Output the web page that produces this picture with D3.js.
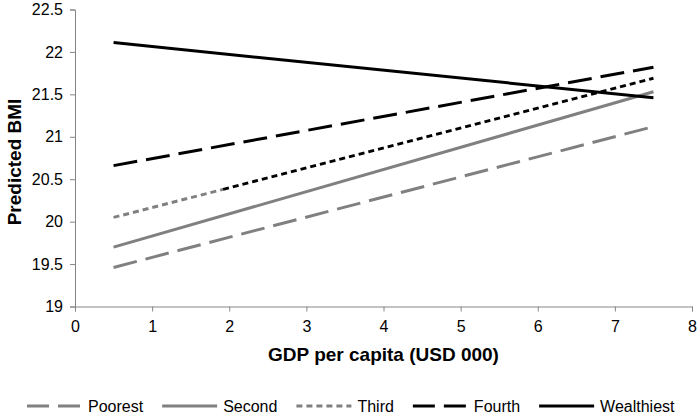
<!DOCTYPE html>
<html>
<head>
<meta charset="utf-8">
<script src="https://cdn.jsdelivr.net/npm/d3@7"></script>
<style>
  html, body { margin: 0; padding: 0; background: #fff; }
  svg { display: block; }
  text { font-family: "Liberation Sans", Arial, sans-serif; }
</style>
</head>
<body>
<svg id="chart" width="700" height="415"></svg>
<script>
// ---- data ----
const xEnds = [0.5, 7.5];
const poorest = [19.46, 21.12];
const second = [19.70, 21.53];
const third = [20.05, 21.69];
const thirdBreakX = 1.92;
const thirdBreakY = 20.38;
const fourth = [20.66, 21.82];
const wealthiest = [22.11, 21.46];
const seriesNames = ["Poorest", "Second", "Third", "Fourth", "Wealthiest"];
const xTicks = [0, 1, 2, 3, 4, 5, 6, 7, 8];
const yTicks = [19, 19.5, 20, 20.5, 21, 21.5, 22, 22.5];

const GRAY = "#808080", BLACK = "#000000";
const styles = {
  Poorest:    { color: GRAY,  dash: "24,9" },
  Second:     { color: GRAY,  dash: null },
  Third:      { color: GRAY,  dash: "6,4" },
  Fourth:     { color: BLACK, dash: "24,9" },
  Wealthiest: { color: BLACK, dash: null }
};

const svg = d3.select("#chart");
const x = d3.scaleLinear().domain([0, 8]).range([75, 692]);
const y = d3.scaleLinear().domain([19, 22.5]).range([306.5, 9.5]);

// axes
const yAxis = svg.append("g").attr("transform", `translate(${x(0)},0)`)
  .call(d3.axisLeft(y).tickValues(yTicks).tickSize(5).tickPadding(7)
        .tickFormat(d => String(d)));
const xAxis = svg.append("g").attr("transform", `translate(0,${y(19)})`)
  .call(d3.axisBottom(x).tickValues(xTicks).tickSize(5).tickPadding(9)
        .tickFormat(d => String(d)));
[yAxis, xAxis].forEach(g => {
  g.select(".domain").attr("stroke", "#868686").attr("stroke-width", 1);
  g.selectAll(".tick line").attr("stroke", "#868686");
  g.selectAll(".tick text").attr("fill", "#000").style("font-size", "16px")
    .style("font-family", '"Liberation Sans", Arial, sans-serif');
});

// titles
svg.append("text").attr("x", (x(0) + x(8)) / 2).attr("y", 361)
  .attr("text-anchor", "middle").style("font-size", "19px").style("font-weight", "bold")
  .text("GDP per capita (USD 000)");
svg.append("text").attr("transform", `translate(14,${(y(19) + y(22.5)) / 2 + 4}) rotate(-90)`)
  .attr("text-anchor", "middle").attr("dy", "0.35em")
  .style("font-size", "19px").style("font-weight", "bold")
  .text("Predicted BMI");

const line = d3.line().x(d => x(d[0])).y(d => y(d[1]));
function draw(pts, color, dash) {
  const p = svg.append("path").datum(pts).attr("d", line)
    .attr("fill", "none").attr("stroke", color).attr("stroke-width", 3);
  if (dash) p.attr("stroke-dasharray", dash);
}
draw(xEnds.map((v, i) => [v, poorest[i]]), GRAY, styles.Poorest.dash);
draw(xEnds.map((v, i) => [v, second[i]]), GRAY, null);
draw([[xEnds[0], third[0]], [thirdBreakX, thirdBreakY]], GRAY, styles.Third.dash);
draw([[thirdBreakX, thirdBreakY], [xEnds[1], third[1]]], BLACK, styles.Third.dash);
draw(xEnds.map((v, i) => [v, fourth[i]]), BLACK, styles.Fourth.dash);
draw(xEnds.map((v, i) => [v, wealthiest[i]]), BLACK, null);

// legend
const legY = 406;
let lx = 27;
seriesNames.forEach(name => {
  const s = styles[name];
  const l = svg.append("line").attr("x1", lx).attr("x2", lx + 55)
    .attr("y1", legY).attr("y2", legY)
    .attr("stroke", s.color).attr("stroke-width", 3);
  if (s.dash) l.attr("stroke-dasharray", name === "Third" ? "6,4" : "22,9");
  const t = svg.append("text").attr("x", lx + 61).attr("y", legY).attr("dy", "0.35em")
    .style("font-size", "16px").attr("fill", "#000").text(name);
  lx += 61 + t.node().getComputedTextLength() + 19;
});
</script>
</body>
</html>
